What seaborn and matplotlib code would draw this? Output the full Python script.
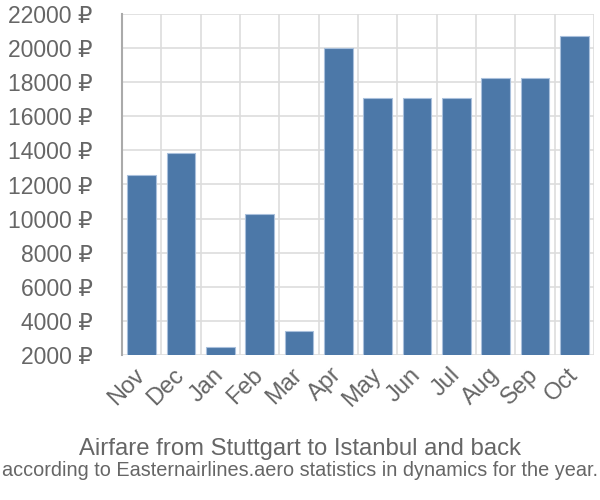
import matplotlib
matplotlib.use("Agg")
import matplotlib.pyplot as plt
import seaborn as sns
import pandas as pd
import numpy as np
from matplotlib.ticker import FixedLocator

months = ["Nov", "Dec", "Jan", "Feb", "Mar", "Apr", "May", "Jun", "Jul", "Aug", "Sep", "Oct"]
prices = [12560, 13870, 2450, 10290, 3380, 20030, 17090, 17090, 17090, 18220, 18220, 20730]
yticks = [2000, 4000, 6000, 8000, 10000, 12000, 14000, 16000, 18000, 20000, 22000]
title = "Airfare from Stuttgart to Istanbul and back"
subtitle = "according to Easternairlines.aero statistics in dynamics for the year."

sns.set_style("white")
plt.rcParams["font.family"] = ["Liberation Sans", "DejaVu Sans"]

df = pd.DataFrame({"month": months, "price": prices})

fig = plt.figure(figsize=(6, 5), dpi=100)
ax = fig.add_axes([122/600, 1-355/500, (594-122)/600, (355-14)/500])

sns.barplot(data=df, x="month", y="price", ax=ax, color="#4c78a8", saturation=1,
            width=0.73, edgecolor="#a9c0dc", linewidth=0.8, zorder=3)

ax.set_ylim(2000, 22000)
ax.set_xlim(-0.5, len(months) - 0.5)
ax.set_yticks(yticks)
ax.set_yticklabels([f"{v} ₽" for v in yticks])
ax.set_xlabel("")
ax.set_ylabel("")

grid_c = "#dddddd"
text_c = "#666666"
ax.xaxis.set_minor_locator(FixedLocator(np.arange(-0.5, len(months), 1.0)))
ax.grid(True, which="minor", axis="x", color=grid_c, linewidth=1.2, zorder=0)
ax.grid(True, which="major", axis="y", color=grid_c, linewidth=1.2, zorder=0)
ax.set_axisbelow(True)

ax.tick_params(axis="y", which="major", length=20, width=1.2, color=grid_c,
               labelsize=16.5, labelcolor=text_c, pad=1)
ax.tick_params(axis="x", which="major", length=0, labelsize=17, labelcolor=text_c, pad=12)
ax.tick_params(axis="x", which="minor", length=20, width=1.2, color=grid_c)
for lab in ax.get_xticklabels():
    lab.set_rotation(45)
    lab.set_ha("right")
    lab.set_va("center")
    lab.set_rotation_mode("anchor")

for s in ["top", "right", "bottom"]:
    ax.spines[s].set_visible(False)
ax.spines["left"].set_color("#aaaaaa")
ax.spines["left"].set_linewidth(1.5)
ax.spines["left"].set_bounds(2000, 22000)

fig.text(0.5, 1-455/500, title, ha="center", va="baseline", fontsize=17.2, color=text_c)
fig.text(0.5, 1-476/500, subtitle, ha="center", va="baseline", fontsize=14.3, color=text_c)

fig.savefig("out.png", dpi=100)
